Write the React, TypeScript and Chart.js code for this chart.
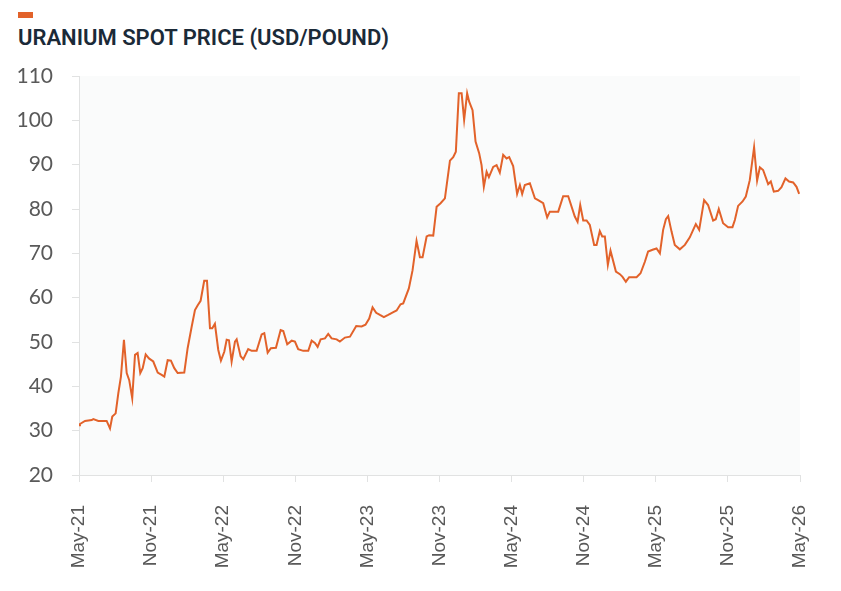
import React, { useEffect, useRef } from "react";
import { Chart, registerables } from "chart.js";

Chart.register(...registerables);

// Months elapsed since May-21 (x position of each weekly-ish observation)
const monthOffsets = [
  0, 0.08, 0.5, 1.06, 1.19, 1.61, 2.3, 2.58, 2.77, 3.05, 3.27, 3.49, 3.74, 3.97, 4.18, 4.43,
  4.66, 4.88, 5.1, 5.3, 5.55, 5.82, 6.18, 6.55, 6.88, 7.1, 7.38, 7.65, 7.93, 8.21, 8.76,
  9.04, 9.38, 9.65, 9.88, 10.12, 10.42, 10.65, 10.9, 11.09, 11.31, 11.59, 11.81, 12.09,
  12.29, 12.48, 12.7, 12.98, 13.12, 13.45, 13.67, 14.08, 14.37, 14.78, 15.2, 15.42, 15.7,
  15.97, 16.39, 16.78, 17.0, 17.33, 17.7, 17.97, 18.24, 18.66, 19.08, 19.36, 19.63, 19.86,
  20.11, 20.47, 20.74, 21.02, 21.44, 21.71, 22.13, 22.55, 23.07, 23.52, 23.84, 24.15,
  24.43, 24.73, 25.04, 25.37, 25.73, 26.12, 26.43, 26.76, 26.98, 27.45, 27.76, 28.09,
  28.37, 28.59, 28.93, 29.14, 29.48, 29.76, 30.09, 30.45, 30.87, 31.14, 31.36, 31.61,
  31.84, 32.05, 32.3, 32.47, 32.75, 33.0, 33.3, 33.5, 33.69, 33.92, 34.11, 34.47, 34.75,
  35.02, 35.3, 35.58, 35.8, 36.13, 36.46, 36.69, 36.88, 37.1, 37.52, 37.94, 38.21, 38.63,
  38.96, 39.18, 39.88, 40.29, 40.71, 41.26, 41.49, 41.71, 41.96, 42.24, 42.51, 42.87,
  43.07, 43.34, 43.54, 43.76, 44.01, 44.23, 44.68, 45.01, 45.23, 45.51, 45.78, 46.4,
  46.73, 47.09, 47.36, 47.73, 48.06, 48.34, 48.61, 48.84, 49.03, 49.31, 49.58, 50.0,
  50.42, 50.83, 51.11, 51.33, 51.61, 52.02, 52.35, 52.77, 52.99, 53.24, 53.6, 54.02,
  54.38, 54.58, 54.85, 55.22, 55.49, 55.82, 56.18, 56.43, 56.66, 56.93, 57.35, 57.57,
  57.82, 58.18, 58.46, 58.79, 59.09, 59.43, 59.71, 59.93,
];

// Uranium spot price, USD per pound
const prices = [
  31.2, 31.5, 32.2, 32.4, 32.6, 32.2, 32.2, 30.5, 33.2, 33.9, 38.4, 42.2, 50.5, 43.0, 41.4, 37.3,
  47.1, 47.5, 43.0, 44.1, 47.2, 46.3, 45.6, 43.1, 42.6, 42.2, 45.9, 45.8, 44.1, 43.0, 43.1,
  48.6, 53.5, 57.2, 58.3, 59.3, 63.8, 63.8, 53.1, 53.1, 54.1, 48.2, 45.8, 47.8,
  50.5, 50.4, 45.6, 50.1, 50.6, 46.8, 46.1, 48.4, 48.0, 48.0, 51.7, 52.0, 47.6,
  48.6, 48.7, 52.7, 52.5, 49.5, 50.3, 50.1, 48.4, 48.0, 48.0, 50.3, 49.8, 48.9,
  50.6, 50.8, 51.8, 50.8, 50.6, 50.1, 51.0, 51.2, 53.6, 53.5, 53.9, 55.3,
  57.8, 56.6, 56.1, 55.6, 56.1, 56.7, 57.1, 58.5, 58.7, 62.1, 66.2, 72.8,
  69.1, 69.1, 73.8, 74.1, 74.0, 80.5, 81.3, 82.4, 90.9, 91.7, 92.9, 106.1,
  106.1, 100.1, 106.1, 104.2, 102.3, 95.2, 92.6, 89.9, 85.0, 88.4, 87.2, 89.5, 89.9,
  88.2, 92.2, 91.4, 91.7, 89.7, 83.4, 85.4, 83.4, 85.4, 85.8, 82.4, 82.0, 81.3,
  78.1, 79.4, 79.4, 82.9, 82.9, 78.3, 77.1, 80.9, 77.4, 77.4, 76.4, 71.9,
  71.9, 75.0, 73.8, 73.8, 67.4, 70.6, 65.9, 65.3, 64.7, 63.6, 64.6, 64.6,
  65.5, 68.1, 70.4, 70.8, 71.1, 70.0, 75.3, 77.7, 78.4, 74.9, 71.9, 70.9,
  71.9, 73.6, 75.3, 76.6, 75.3, 82.0, 80.9, 77.4, 77.7, 80.0, 76.8, 75.9,
  75.9, 77.5, 80.7, 81.7, 82.8, 86.5, 93.9, 86.4, 89.4, 88.8, 85.6, 86.2,
  83.9, 84.1, 84.9, 86.9, 86.2, 86.0, 85.0, 83.4,
];

const xTickLabels = [
  "May-21", "Nov-21", "May-22", "Nov-22", "May-23", "Nov-23",
  "May-24", "Nov-24", "May-25", "Nov-25", "May-26",
];

const titleText = "URANIUM SPOT PRICE (USD/POUND)";
const yMin = 20;
const yMax = 110;
const yStep = 10;
const monthsPerTick = 6;

const ORANGE = "#e2622a";
const AXIS_GRAY = "#e1e2e2";
const LABEL_GRAY = "#595959";

const plotBackground = {
  id: "plotBackground",
  beforeDraw(chart: any) {
    const { ctx, chartArea } = chart;
    if (!chartArea) return;
    ctx.save();
    ctx.fillStyle = "#fafbfb";
    ctx.fillRect(chartArea.left, chartArea.top, chartArea.right - chartArea.left, chartArea.bottom - chartArea.top);
    ctx.restore();
  },
};

export default function App() {
  const canvasRef = useRef<HTMLCanvasElement | null>(null);

  useEffect(() => {
    const canvas = canvasRef.current;
    if (!canvas) return;
    const points = monthOffsets.map((m, i) => ({ x: m, y: prices[i] }));
    const chart = new Chart(canvas, {
      type: "line",
      data: {
        datasets: [
          {
            data: points,
            borderColor: ORANGE,
            borderWidth: 2,
            pointRadius: 0,
            pointHoverRadius: 0,
            fill: false,
            tension: 0,
          },
        ],
      },
      options: {
        animation: false,
        responsive: false,
        devicePixelRatio: 1,
        layout: { padding: { top: 16, right: 41, left: 0, bottom: 0 } },
        plugins: {
          legend: { display: false },
          tooltip: { enabled: false },
          title: { display: false },
        },
        scales: {
          x: {
            type: "linear",
            min: 0,
            max: (xTickLabels.length - 1) * monthsPerTick,
            afterFit(scale: any) {
              scale.height = 116;
              scale.paddingLeft = 0;
              scale.paddingRight = 0;
            },
            afterBuildTicks(scale: any) {
              scale.ticks = xTickLabels.map((_, i) => ({ value: i * monthsPerTick }));
            },
            ticks: {
              autoSkip: false,
              maxRotation: 90,
              minRotation: 90,
              padding: 23,
              color: LABEL_GRAY,
              font: { family: "'Liberation Sans', Arial, sans-serif", size: 19 },
              callback: (_v: any, i: number) => xTickLabels[i],
            },
            grid: {
              drawOnChartArea: false,
              drawTicks: true,
              tickLength: 7,
              color: AXIS_GRAY,
            },
            border: { display: true, color: AXIS_GRAY },
          },
          y: {
            min: yMin,
            max: yMax,
            afterFit(scale: any) {
              scale.width = 79;
              scale.paddingTop = 0;
              scale.paddingBottom = 0;
            },
            ticks: {
              stepSize: yStep,
              padding: 19,
              color: LABEL_GRAY,
              font: { family: "Lato, 'Open Sans', sans-serif", size: 21 },
            },
            grid: {
              drawOnChartArea: false,
              drawTicks: true,
              tickLength: 7,
              color: AXIS_GRAY,
            },
            border: { display: true, color: AXIS_GRAY },
          },
        },
      },
      plugins: [plotBackground],
    });
    return () => chart.destroy();
  }, []);

  return (
    <div
      style={{
        position: "fixed",
        left: 0,
        top: 0,
        width: 841,
        height: 591,
        background: "#ffffff",
        overflow: "hidden",
      }}
    >
      <div
        style={{
          position: "absolute",
          left: 18,
          top: 12,
          width: 15,
          height: 6,
          background: ORANGE,
        }}
      />
      <div
        style={{
          position: "absolute",
          left: 18,
          top: 25,
          fontFamily: "Roboto, 'Open Sans', sans-serif",
          fontWeight: 600,
          fontSize: 22,
          lineHeight: "26px",
          color: "#1b2a38",
          whiteSpace: "nowrap",
        }}
      >
        {titleText}
      </div>
      <canvas
        ref={canvasRef}
        width={841}
        height={531}
        style={{ position: "absolute", left: 0, top: 60, width: 841, height: 531 }}
      />
    </div>
  );
}
